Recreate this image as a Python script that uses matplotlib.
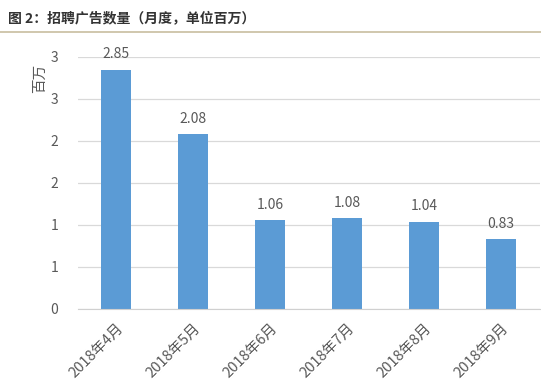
import matplotlib.pyplot as plt
from matplotlib.lines import Line2D

plt.rcParams['font.family'] = ['Noto Sans CJK SC', 'DejaVu Sans']

months = ["2018年4月", "2018年5月", "2018年6月", "2018年7月", "2018年8月", "2018年9月"]
ads = [2.85, 2.08, 1.06, 1.08, 1.04, 0.83]
yticks = [0, 0.5, 1.0, 1.5, 2.0, 2.5, 3.0]
ytick_labels = ["0", "1", "1", "2", "2", "3", "3"]

title = "图 2：招聘广告数量（月度，单位百万）"
bar_color = "#5b9bd5"
text_gray = "#595959"

fig = plt.figure(figsize=(5.41, 3.86), dpi=100)
ax = fig.add_axes([0.1433, 0.1995, 0.854, 0.653])

x = range(len(months))
ax.bar(x, ads, width=0.4, color=bar_color, zorder=2)

for xi, v in zip(x, ads):
    ax.annotate(f"{v:.2f}", (xi, v), xytext=(0, 6), textcoords="offset points",
                ha="center", va="bottom", fontsize=10, color=text_gray)

ax.set_xlim(-0.5, len(months) - 0.5)
ax.set_ylim(0, 3.0)
ax.set_yticks(yticks)
ax.set_yticklabels(ytick_labels)
ax.set_xticks(list(x))
ax.set_xticklabels(months, rotation=45, ha="right", rotation_mode="anchor")

ax.tick_params(axis="y", length=0, pad=14, labelsize=10, labelcolor=text_gray)
ax.tick_params(axis="x", length=0, pad=9, labelsize=10.5, labelcolor=text_gray)
ax.grid(axis="y", color="#d9d9d9", linewidth=0.9, zorder=0)
for side in ["top", "right", "left"]:
    ax.spines[side].set_visible(False)
ax.spines["bottom"].set_color("#d0d0d0")

fig.text(40 / 541, 1 - 78 / 386, "百万", rotation=90, ha="center", va="center",
         fontsize=10.5, color=text_gray)

fig.text(8 / 541, 1 - 18 / 386, title, ha="left", va="center",
         fontsize=10, fontweight="bold", color="#333333")
fig.add_artist(Line2D([0, 1], [1 - 32 / 386] * 2, transform=fig.transFigure,
                      color="#c8bd9f", linewidth=1.2))

fig.savefig("out.png", dpi=100, facecolor="white")
